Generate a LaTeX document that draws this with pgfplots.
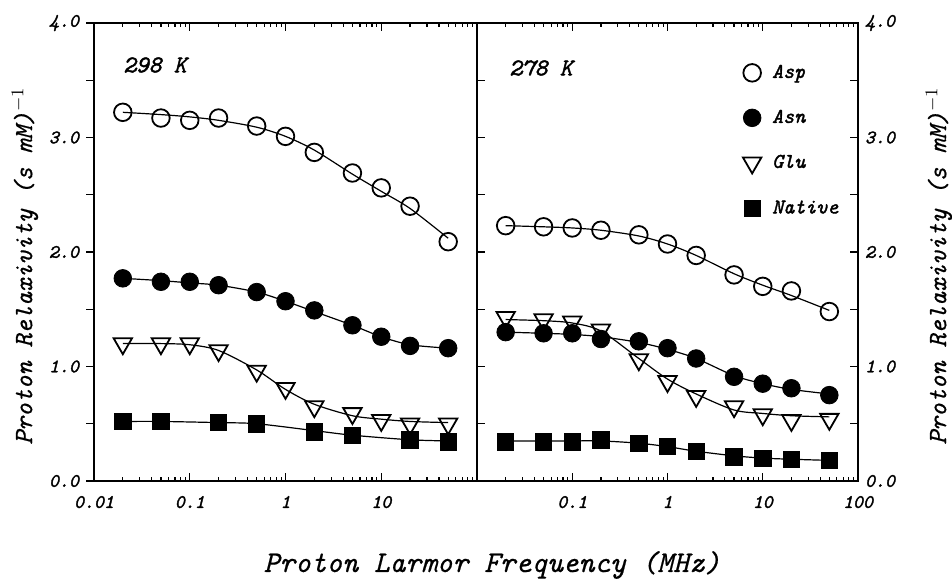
\documentclass[border=0pt]{standalone}
\usepackage{fontspec}
\usepackage{pgfplots}
\pgfplotsset{compat=1.18}
\usepackage{pgfplotstable}

\newfontface\ttbi{lmmono10-italic.otf}[FakeBold=1.8]
\newfontface\ttmi{lmmono10-italic.otf}[FakeBold=0.6]

% ---------- 298 K (left panel) ----------
\pgfplotstableread{
x    asp  asn  glu
0.02 3.22 1.77 1.20
0.05 3.17 1.74 1.20
0.1  3.15 1.74 1.20
0.2  3.17 1.71 1.14
0.5  3.10 1.65 0.96
1    3.01 1.57 0.81
2    2.87 1.49 0.65
5    2.69 1.36 0.59
10   2.56 1.26 0.53
20   2.40 1.18 0.50
50   2.09 1.16 0.50
}\leftdata
\pgfplotstableread{
x    asp  asn  glu
0.02 3.22 1.77 1.20
0.05 3.20 1.75 1.20
0.1  3.18 1.73 1.19
0.2  3.15 1.71 1.14
0.5  3.09 1.65 0.97
1    3.01 1.57 0.80
2    2.89 1.48 0.67
5    2.68 1.36 0.57
10   2.53 1.26 0.54
20   2.38 1.19 0.52
50   2.12 1.16 0.51
}\leftfit
\pgfplotstableread{
x    nat
0.02 0.52
0.05 0.52
0.2  0.51
0.5  0.50
2    0.43
5    0.40
20   0.36
50   0.34
}\leftnat
\pgfplotstableread{
x    nat
0.02 0.52
0.05 0.52
0.2  0.51
0.5  0.50
2    0.44
5    0.40
20   0.36
50   0.35
}\leftnatfit

% ---------- 278 K (right panel) ----------
\pgfplotstableread{
x    asp  asn  glu  nat
0.02 2.23 1.30 1.43 0.34
0.05 2.22 1.29 1.41 0.34
0.1  2.21 1.29 1.39 0.34
0.2  2.19 1.24 1.32 0.36
0.5  2.15 1.22 1.06 0.33
1    2.07 1.16 0.87 0.30
2    1.97 1.07 0.74 0.26
5    1.80 0.91 0.65 0.21
10   1.70 0.85 0.58 0.20
20   1.66 0.81 0.53 0.19
50   1.48 0.75 0.54 0.18
}\rightdata
\pgfplotstableread{
x    asp  asn  glu  nat
0.02 2.23 1.30 1.41 0.35
0.05 2.22 1.29 1.40 0.35
0.1  2.21 1.28 1.38 0.35
0.2  2.19 1.26 1.31 0.35
0.5  2.14 1.21 1.07 0.33
1    2.07 1.15 0.89 0.30
2    1.97 1.07 0.76 0.26
5    1.81 0.92 0.62 0.22
10   1.71 0.85 0.59 0.20
20   1.62 0.80 0.57 0.19
50   1.49 0.76 0.56 0.18
}\rightfit

\newcommand\tlfont{\ttbi\fontsize{9.5}{10}\selectfont}
\newcommand\lgfont{\ttbi\fontsize{10.5}{12}\selectfont}
\newcommand\tkfont{\ttbi\fontsize{12}{14}\selectfont}
\newcommand\ylfont{\ttmi\fontsize{13.2}{15}\selectfont}
\newcommand\xlfont{\ttmi\fontsize{15}{17}\selectfont}

\pgfplotsset{
  fitline/.style={black, line width=0.6pt, smooth, no marks, forget plot},
  aspm/.style={only marks, mark=o, mark size=4.4pt, mark options={black, line width=0.9pt}},
  asnm/.style={only marks, mark=*, mark size=4.4pt, mark options={black, fill=black}},
  glum/.style={only marks, mark=triangle, mark size=5.3pt, mark options={black, line width=0.9pt, rotate=180}},
  natm/.style={only marks, mark=square*, mark size=4.1pt, mark options={black, fill=black}},
}

\begin{document}
\begin{tikzpicture}
\path[use as bounding box] (-47pt,-51pt) rectangle (429pt,240.5pt);

% ---------------- left panel: 298 K ----------------
\begin{axis}[
  at={(0pt,0pt)}, anchor=south west,
  scale only axis, width=191.5pt, height=229pt,
  xmode=log, xmin=0.01, xmax=100, ymin=0, ymax=4,
  axis line style={line width=0.8pt},
  tick style={line width=0.6pt, black},
  major tick length=4pt, minor tick length=2.2pt,
  tick align=inside,
  xtick={0.01,0.1,1,10,100},
  xticklabels={0.01,0.1,1,10,{}},
  minor xtick={0.02,0.03,0.04,0.05,0.06,0.07,0.08,0.09,
               0.2,0.3,0.4,0.5,0.6,0.7,0.8,0.9,
               2,3,4,5,6,7,8,9,20,30,40,50,60,70,80,90},
  xtick pos=both,
  ytick=\empty,
  extra y ticks={0,0.5,1,1.5,2,2.5,3,3.5,4},
  extra y tick labels={0.0,,1.0,,2.0,,3.0,,4.0},
  extra tick style={tick align=outside, ytick pos=left, yticklabel pos=left,
    tick style={line width=0.6pt, black}, major tick length=4pt},
  xticklabel style={font=\tlfont, yshift=-4pt},
  yticklabel style={font=\tlfont},
  clip=false,
]
\addplot[fitline] table[x=x, y=asp] {\leftfit};
\addplot[fitline] table[x=x, y=asn] {\leftfit};
\addplot[fitline] table[x=x, y=glu] {\leftfit};
\addplot[fitline] table[x=x, y=nat] {\leftnatfit};
\addplot[aspm] table[x=x, y=asp] {\leftdata};
\addplot[asnm] table[x=x, y=asn] {\leftdata};
\addplot[glum] table[x=x, y=glu] {\leftdata};
\addplot[natm] table[x=x, y=nat] {\leftnat};
\end{axis}

% ---------------- right panel: 278 K ----------------
\begin{axis}[
  at={(191.5pt,0pt)}, anchor=south west,
  scale only axis, width=190.5pt, height=229pt,
  xmode=log, xmin=0.01, xmax=100, ymin=0, ymax=4,
  axis line style={line width=0.8pt},
  tick style={line width=0.6pt, black},
  major tick length=4pt, minor tick length=2.2pt,
  tick align=inside,
  xtick={0.01,0.1,1,10,100},
  xticklabels={{},0.1,1,10,100},
  minor xtick={0.02,0.03,0.04,0.05,0.06,0.07,0.08,0.09,
               0.2,0.3,0.4,0.5,0.6,0.7,0.8,0.9,
               2,3,4,5,6,7,8,9,20,30,40,50,60,70,80,90},
  xtick pos=both,
  ytick={0,0.5,1,1.5,2,2.5,3,3.5,4},
  yticklabels={0.0,,1.0,,2.0,,3.0,,4.0},
  ytick pos=both, yticklabel pos=right,
  xticklabel style={font=\tlfont, yshift=-4pt},
  yticklabel style={font=\tlfont},
  clip=false,
  legend cell align=left,
  legend image code/.code={%
    \path[draw=none, fill=none] (-5pt,-5pt) rectangle (5pt,5pt);
    \draw[#1] plot coordinates {(0pt,0pt)};},
  legend style={at={(0.696,0.913)}, anchor=north west, draw=none, fill=none,
    inner sep=0pt, outer sep=0pt, nodes={inner sep=0pt, font=\lgfont},
    column sep=5pt, row sep=12.5pt},
]
\addplot[fitline] table[x=x, y=asp] {\rightfit};
\addplot[fitline] table[x=x, y=asn] {\rightfit};
\addplot[fitline] table[x=x, y=glu] {\rightfit};
\addplot[fitline] table[x=x, y=nat] {\rightfit};
\addplot[aspm] table[x=x, y=asp] {\rightdata};
\addlegendentry{Asp}
\addplot[asnm] table[x=x, y=asn] {\rightdata};
\addlegendentry{Asn}
\addplot[glum] table[x=x, y=glu] {\rightdata};
\addlegendentry{Glu}
\addplot[natm] table[x=x, y=nat] {\rightdata};
\addlegendentry{Native}
\end{axis}

% ---------------- texts ----------------
\node[font=\tkfont] at (30.5pt,208pt) {298 K};
\node[font=\tkfont] at (223.5pt,206.5pt) {278 K};
\node[rotate=90, font=\ylfont] at (-34.5pt,107.5pt) {Proton Relaxivity (s mM)$^{-1}$};
\node[rotate=90, font=\ylfont] at (422.5pt,107.5pt) {Proton Relaxivity (s mM)$^{-1}$};
\node[font=\xlfont] at (199pt,-42pt) {Proton Larmor Frequency (MHz)};
\end{tikzpicture}
\end{document}
